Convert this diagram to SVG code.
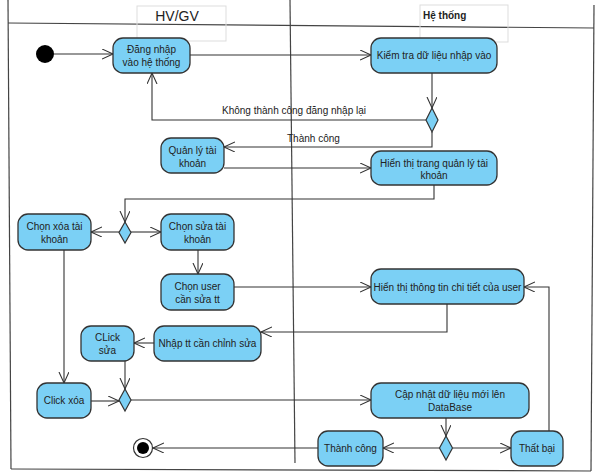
<svg xmlns="http://www.w3.org/2000/svg" width="604" height="472" viewBox="0 0 604 472">
<style>
  .node rect.act { fill: #7BD0F5; stroke: #333; stroke-width: 1.3; }
  .dia { fill: #7BD0F5; stroke: #333; stroke-width: 1.2; }
  text { font-family: "Liberation Sans", Arial, sans-serif; font-size: 10px; fill: #222; }
  .t { text-anchor: middle; }
  .conn path, .conn line { fill: none; stroke: #333; stroke-width: 1.1; }
  .frame { stroke: #444; stroke-width: 1.2; fill: none; }
  .hdr { fill: none; stroke: #ddd; stroke-width: 1; }
</style>
<defs>
  <marker id="arr" markerUnits="userSpaceOnUse" markerWidth="14" markerHeight="14" refX="11" refY="5" orient="auto">
    <path d="M0,0 L11,5 L0,10" fill="none" stroke="#333" stroke-width="1.1"/>
  </marker>
</defs>
<rect width="604" height="472" fill="#fff"/>

<g id="frame">
  <line class="frame" x1="8" y1="0" x2="11" y2="469"/>
  <line class="frame" x1="11" y1="469" x2="591" y2="471"/>
  <line class="frame" x1="594" y1="5" x2="591" y2="471"/>
  <line class="frame" x1="8" y1="23" x2="594" y2="28"/>
  <line class="frame" x1="290" y1="0" x2="295" y2="463"/>
  <rect class="hdr" x="137" y="6" width="89" height="35"/>
  <text x="177" y="21" text-anchor="middle" style="font-size:14px">HV/GV</text>
  <rect class="hdr" x="420" y="5" width="88" height="37"/>
  <text x="423" y="19" style="font-weight:bold">Hệ thống</text>
</g>

<g class="conn" id="connectors">
  <line x1="54" y1="54" x2="113" y2="54" marker-end="url(#arr)"/>
  <line x1="190" y1="55" x2="371" y2="55" marker-end="url(#arr)"/>
  <line x1="432" y1="73" x2="432" y2="108" marker-end="url(#arr)"/>
  <path d="M426,120 H152 V73" marker-end="url(#arr)"/>
  <path d="M432,132 V147 H224" marker-end="url(#arr)"/>
  <line x1="224" y1="168" x2="371" y2="168" marker-end="url(#arr)"/>
  <path d="M434,185 V199 H125 V222" marker-end="url(#arr)"/>
  <line x1="119" y1="232" x2="91" y2="232" marker-end="url(#arr)"/>
  <line x1="131" y1="232" x2="161" y2="232" marker-end="url(#arr)"/>
  <line x1="198" y1="250" x2="198" y2="274" marker-end="url(#arr)"/>
  <line x1="234" y1="287" x2="371" y2="287" marker-end="url(#arr)"/>
  <path d="M447,304 V332 H261" marker-end="url(#arr)"/>
  <line x1="154" y1="343" x2="134" y2="343" marker-end="url(#arr)"/>
  <line x1="64" y1="250" x2="64" y2="383" marker-end="url(#arr)"/>
  <line x1="125" y1="361" x2="125" y2="389" marker-end="url(#arr)"/>
  <line x1="91" y1="401" x2="119" y2="401" marker-end="url(#arr)"/>
  <line x1="131" y1="400" x2="371" y2="400" marker-end="url(#arr)"/>
  <line x1="446" y1="418" x2="446" y2="436" marker-end="url(#arr)"/>
  <line x1="440" y1="448" x2="383" y2="448" marker-end="url(#arr)"/>
  <line x1="453" y1="448" x2="511" y2="448" marker-end="url(#arr)"/>
  <path d="M549,431 V287 H524" marker-end="url(#arr)"/>
  <line x1="318" y1="448" x2="153" y2="448" marker-end="url(#arr)"/>
  <text x="222" y="114" style="stroke:none">Không thành công đăng nhập lại</text>
  <text x="287" y="142" style="stroke:none">Thành công</text>
</g>

<g id="start"><circle cx="45" cy="54" r="9" fill="#000"/></g>
<g id="end"><circle cx="143" cy="448" r="9.5" fill="#fff" stroke="#333" stroke-width="1.2"/><circle cx="143" cy="448" r="6" fill="#000"/></g>

<g class="node" id="dangnhap"><rect class="act" x="113" y="38" width="77" height="35" rx="10"/>
  <text class="t" x="151.5" y="53">Đăng nhập</text><text class="t" x="151.5" y="66">vào hệ thống</text></g>
<g class="node" id="kiemtra"><rect class="act" x="371" y="38" width="126" height="35" rx="10"/>
  <text class="t" x="434" y="59">Kiểm tra dữ liệu nhập vào</text></g>
<g id="d1"><polygon class="dia" points="432,108 438,120 432,132 426,120"/></g>
<g class="node" id="quanly"><rect class="act" x="161" y="138" width="63" height="35" rx="10"/>
  <text class="t" x="192.5" y="154">Quản lý tài</text><text class="t" x="192.5" y="167">khoản</text></g>
<g class="node" id="hienthitrang"><rect class="act" x="371" y="151" width="126" height="34" rx="10"/>
  <text class="t" x="434" y="167">Hiển thị trang quản lý tài</text><text class="t" x="434" y="179">khoản</text></g>
<g id="d2"><polygon class="dia" points="125,222 131,232.5 125,243 119,232.5"/></g>
<g class="node" id="chonxoa"><rect class="act" x="18" y="214" width="73" height="36" rx="10"/>
  <text class="t" x="54.5" y="230">Chọn xóa tài</text><text class="t" x="54.5" y="243">khoản</text></g>
<g class="node" id="chonsua"><rect class="act" x="161" y="214" width="73" height="36" rx="10"/>
  <text class="t" x="197.5" y="230">Chọn sửa tài</text><text class="t" x="197.5" y="243">khoản</text></g>
<g class="node" id="chonuser"><rect class="act" x="161" y="274" width="73" height="36" rx="10"/>
  <text class="t" x="197.5" y="290">Chọn user</text><text class="t" x="197.5" y="303">cần sửa tt</text></g>
<g class="node" id="hienthitt"><rect class="act" x="371" y="269" width="153" height="35" rx="10"/>
  <text class="t" x="447.5" y="291">Hiển thị thông tin chi tiết của user</text></g>
<g class="node" id="clicksua"><rect class="act" x="81" y="326" width="53" height="35" rx="10"/>
  <text class="t" x="107.5" y="341">CLick</text><text class="t" x="107.5" y="354">sửa</text></g>
<g class="node" id="nhaptt"><rect class="act" x="154" y="326" width="107" height="35" rx="10"/>
  <text class="t" x="207.5" y="347">Nhập tt cần chỉnh sửa</text></g>
<g class="node" id="clickxoa"><rect class="act" x="37" y="383" width="54" height="35" rx="10"/>
  <text class="t" x="64" y="404">Click xóa</text></g>
<g id="d3"><polygon class="dia" points="125,389 131,400 125,411 119,400"/></g>
<g class="node" id="capnhat"><rect class="act" x="371" y="383" width="158" height="35" rx="10"/>
  <text class="t" x="450" y="398">Cập nhật dữ liệu mới lên</text><text class="t" x="450" y="411">DataBase</text></g>
<g id="d4"><polygon class="dia" points="446,436 452.5,448 446,460 439.5,448"/></g>
<g class="node" id="thanhcong"><rect class="act" x="318" y="431" width="65" height="35" rx="10"/>
  <text class="t" x="350.5" y="452">Thành công</text></g>
<g class="node" id="thatbai"><rect class="act" x="511" y="431" width="52" height="35" rx="10"/>
  <text class="t" x="537" y="452">Thất bại</text></g>
</svg>
